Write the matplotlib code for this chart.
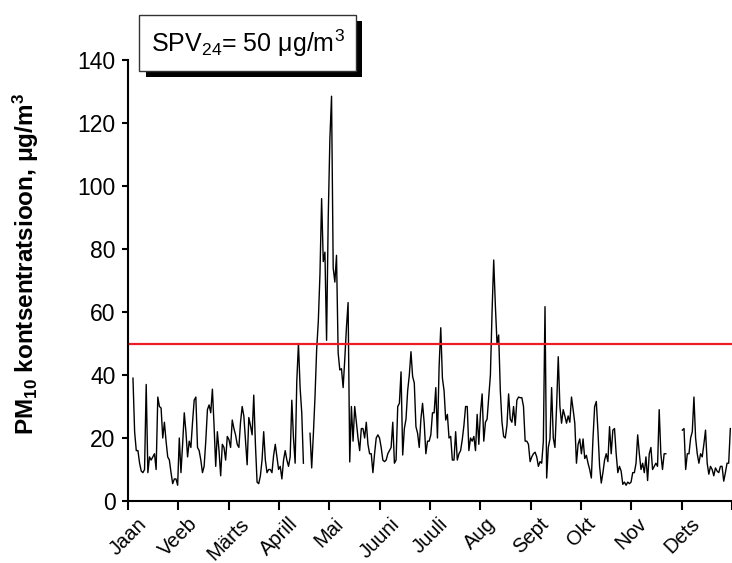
import numpy as np
import matplotlib
matplotlib.use("Agg")
import matplotlib.pyplot as plt
from matplotlib.patches import Rectangle
from matplotlib.transforms import ScaledTranslation

plt.rcParams['font.family'] = ['Liberation Sans', 'DejaVu Sans']
plt.rcParams['mathtext.fontset'] = 'custom'
plt.rcParams['mathtext.rm'] = 'Liberation Sans'
plt.rcParams['mathtext.it'] = 'Liberation Sans:italic'
plt.rcParams['mathtext.bf'] = 'Liberation Sans:bold'

nan = np.nan

# PM10 ööpäevakeskmised, kuude kaupa (puuduvad päevad = nan)
jaan = [nan, nan, nan, 39, 22, 16, 16, 12, 9.5, 9, 10, 37, 9, 14, 13, 14, 15, 10, 33, 30,
        29.5, 20, 25, 19, 14, 13, 9, 5.5, 7, 7, 5]
veeb = [20, 9, 18, 28, 22, 14, 19, 17, 25, 32, 33, 17, 16, 13, 9, 11, 19, 29, 30.5, 28,
        35.5, 24, 11, 22, 16, 8, 18, 17]
marts = [13, 20.5, 19.5, 17, 25.7, 23, 21, 18, 17, 25, 30, 27, 19, 11.5, 26.5, 24, 21, 33.6,
         18, 6, 5.5, 8, 13, 22, 13, 9, 10, 10, 9, 14.5, 18]
aprill = [14, 10, 11, 7, 13, 16, 13, 11, 14, 32, 20, 12, 38, 50, 36, 28, 12, nan, nan, nan,
          21.5, 10.5, 21, 33, 48, 57, 72, 96, 76, 79]
mai = [51, 90, 115, 128.5, 74, 69.5, 78, 47, 41.6, 42, 36, 45, 55, 63, 12.4, 30, 19, 30, 25, 20,
       16, 23, 23, 20, 25, 18, 15, 15, 9, 15, 20]
juuni = [21, 20, 17, 13, 12.5, 13, 15, 16, 17, 25, 12, 13, 30, 31, 41, 14.6, 23, 26, 35, 40,
         47.4, 39.5, 37.5, 23.6, 21.5, 17, 26, 31, 24.7, 15]
juuli = [19, 19, 21, 28, 28, 36, 20, 42.6, 55, 39, 35, 25.7, 27.5, 20, 20.5, 13, 13, 22, 13, 15,
         16, 19.5, 24, 30, 30, 16, 20, 19, 20.5, 16, 27.5]
aug = [18, 28, 34, 19, 25, 26, 33, 40, 60, 76.5, 62, 50, 52.7, 35, 25, 20.5, 20, 24, 34, 26,
       25, 30, 24, 32, 33, 32.8, 32.8, 30, 19, 19, 18]
sept = [12.5, 14, 15, 15.5, 14, 11, 12.5, 12, 19, 61.7, 7.3, 17, 19.7, 36, 20, 17, 30, 45.8, 30, 24.7,
        29, 27, 24.7, 27, 25, 33, 29, 24.7, 12, 18]
okt = [19.7, 15, 19.7, 13.5, 14.5, 12, 10, 7.3, 20, 30, 31.6, 22, 11, 5.7, 9, 13, 15, 12.5, 23.6, 15,
       22.5, 23, 15, 9, 11, 9.5, 5.3, 6, 5, 6, 5.5]
nov = [6, 9, 9, 12, 21, 15, 10, 12, 9, 14, 6.5, 15, 17, 10, 11, 12, 11, 29, 15, 10,
       15, 15, nan, nan, nan, nan, nan, nan, nan, nan]
dets = [nan, 22.5, 23, 10, 15, 15, 20, 22, 33, 20, 15, 12, 15, 14, 18, 22.5, 12, 8.5, 11, 10,
        8, 10.5, 9.5, 9, 11, 11, 6.3, 9, 12, 12, 23]

kuud = ['Jaan', 'Veeb', 'Märts', 'Aprill', 'Mai', 'Juuni', 'Juuli', 'Aug', 'Sept', 'Okt', 'Nov', 'Dets']
spv24 = 50

pm10 = np.array(jaan + veeb + marts + aprill + mai + juuni + juuli + aug + sept + okt + nov + dets)
paevad = np.arange(len(pm10))

fig = plt.figure(figsize=(7.32, 5.63), dpi=100)
W, H = 732, 563
ax = fig.add_axes([128 / W, 1 - 501 / H, 604 / W, 441 / H])

ax.plot(paevad, pm10, color='black', lw=1.0)
ax.axhline(spv24, color='#ee1c25', lw=1.6)

ax.set_xlim(0, 365)
ax.set_ylim(0, 140)
ax.set_yticks(np.arange(0, 141, 20))
ax.set_xticks(np.arange(13) * 365 / 12)
ax.set_xticklabels(kuud + [''], rotation=45, ha='center')
# nihutame kuunimesid veidi paremale
nihe = ScaledTranslation(4 / 72, 0, fig.dpi_scale_trans)
for lbl in ax.get_xticklabels():
    lbl.set_transform(lbl.get_transform() + nihe)

ax.spines['top'].set_visible(False)
ax.spines['right'].set_visible(False)
ax.spines['left'].set_linewidth(1.5)
ax.spines['bottom'].set_linewidth(1.5)
ax.tick_params(axis='x', length=6.5, width=1.5, labelsize=14.5, pad=3)
ax.tick_params(axis='y', length=4, width=1.5, labelsize=16.5, pad=5)

fig.text(26 / W, 1 - 264 / H, r'PM$_{\mathbf{10}}$ kontsentratsioon, μg/m$^{\mathbf{3}}$',
         rotation=90, ha='center', va='center', fontsize=17.5, fontweight='bold')

# piirväärtuse kast koos varjuga
fig.add_artist(Rectangle((146 / W, 1 - 77 / H), 216 / W, 56 / H, transform=fig.transFigure,
                         facecolor='black', edgecolor='none'))
fig.add_artist(Rectangle((139 / W, 1 - 71 / H), 217 / W, 56 / H, transform=fig.transFigure,
                         facecolor='white', edgecolor='#333333', lw=1.0))
fig.text(248 / W, 1 - 43 / H, r'SPV$_{24}$= 50 μg/m$^3$', ha='center', va='center', fontsize=18)

fig.savefig('out.png', dpi=100)
